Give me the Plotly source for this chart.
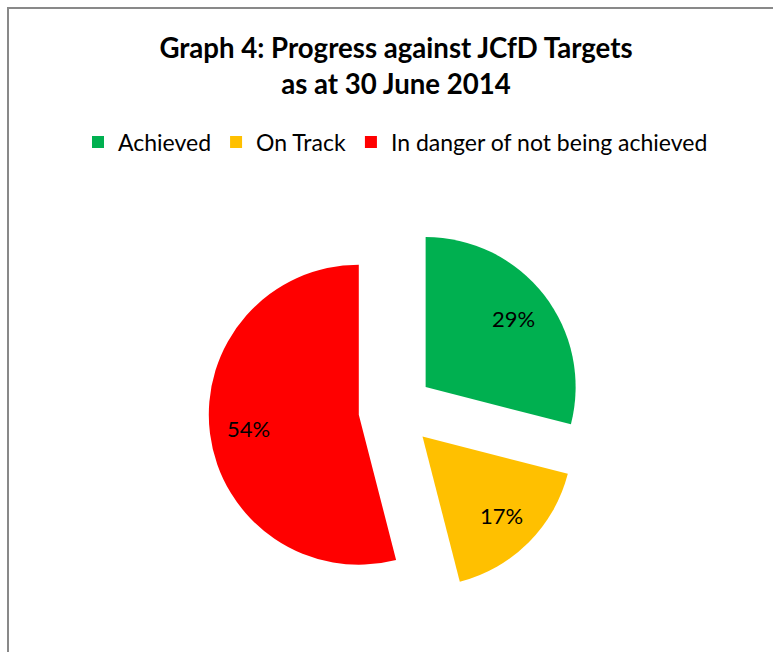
import math
import plotly.graph_objects as go

categories = ["Achieved", "On Track", "In danger of not being achieved"]
values = [29, 17, 54]
colors = ["#00B050", "#FFC000", "#FF0000"]

W, H = 773, 652
FONT = "Lato"

# pie geometry (px)
cx, cy, r, pull = 396, 410, 150, 0.25
half = r * (1 + pull)

fig = go.Figure(go.Pie(
    labels=categories,
    values=values,
    marker=dict(colors=colors),
    sort=False,
    direction="clockwise",
    rotation=0,
    pull=[pull] * len(values),
    textinfo="none",
    hoverinfo="label+percent",
    domain=dict(x=[(cx - half) / W, (cx + half) / W],
                y=[1 - (cy + half) / H, 1 - (cy - half) / H]),
))

# data labels placed along each slice's mid-angle (Excel "best fit" style)
total = sum(values)
annotations = []
cum = 0
for v in values:
    mid = (cum + v / 2) / total * 2 * math.pi
    cum += v
    dx, dy = math.sin(mid), -math.cos(mid)
    px = cx + dx * (r * pull + 0.74 * r)
    py = cy + dy * (r * pull + 0.74 * r)
    annotations.append(dict(
        x=px / W, y=1 - py / H, xref="paper", yref="paper",
        text=f"{round(v / total * 100)}%", showarrow=False,
        font=dict(family=FONT, size=22, color="black"),
        xanchor="center", yanchor="middle",
    ))

fig.update_layout(
    width=W, height=H,
    margin=dict(l=0, r=0, t=0, b=0),
    paper_bgcolor="white",
    plot_bgcolor="white",
    font=dict(family=FONT, color="black"),
    title=dict(
        text="<b>Graph 4: Progress against JCfD Targets<br>as at 30 June 2014</b>",
        x=396 / W, xanchor="center",
        y=1 - 58 / H, yanchor="middle",
        font=dict(family=FONT, size=27.6, color="black"),
    ),
    legend=dict(
        orientation="h",
        x=78 / W, xanchor="left",
        y=1 - 142 / H, yanchor="middle",
        font=dict(family=FONT, size=23, color="black"),
        itemclick=False,
    ),
    showlegend=True,
    annotations=annotations,
    shapes=[dict(
        type="rect", xref="paper", yref="paper",
        x0=8 / W, x1=1.2, y0=-0.2, y1=1 - 8 / H,
        line=dict(color="#898989", width=2),
        fillcolor="rgba(0,0,0,0)", layer="above",
    )],
)

fig.write_html(
    "out.html",
    config={"displayModeBar": False},
    post_script="document.body.style.margin='0';document.body.style.overflow='hidden';",
)
